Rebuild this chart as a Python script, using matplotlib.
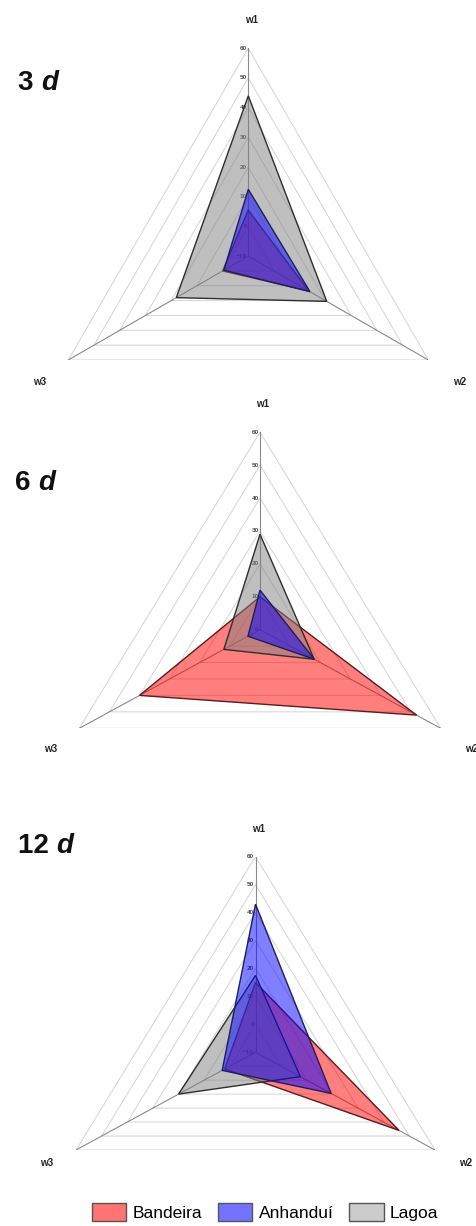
import numpy as np
import matplotlib
matplotlib.use("Agg")
import matplotlib.pyplot as plt
from matplotlib.patches import Polygon, Patch

plt.rcParams['font.family'] = ['Liberation Sans', 'DejaVu Sans']

# ---- data -------------------------------------------------------------
spokes = ["w1", "w2", "w3"]
series_names = ["Bandeira", "Anhanduí", "Lagoa"]
days = ["3", "6", "12"]

bandeira = [[5.5, 13.5, 0.0], [10, 52, 40], [15, 46, 2]]
anhandui = [[12.5, 14, -0.5], [12, 18, 4], [43, 19.5, 3]]
lagoa = [[44, 20.5, 18], [29, 18, 12], [17.5, 7.5, 20]]

scale_min = [-10, 0, -10]
scale_max = 60
scale_step = 10

# ---- styling ----------------------------------------------------------
fill_colors = {"Bandeira": (1.0, 0.0, 0.0, 0.5),
               "Anhanduí": (0.0, 0.0, 1.0, 0.5),
               "Lagoa": (0.5, 0.5, 0.5, 0.5)}
edge_colors = {"Bandeira": "#5a1c1c", "Anhanduí": "#1e1e5a", "Lagoa": "#2e2e2e"}
draw_order = ["Bandeira", "Lagoa", "Anhanduí"]

W, H = 476, 1226
fig = plt.figure(figsize=(W / 100, H / 100), dpi=100)

# panel boxes in pixels: left, right, top, bottom
boxes = [(68.3, 428.3, 48.3, 360.0),
         (79.3, 440.7, 432.3, 728.3),
         (76.0, 435.0, 856.7, 1150.0)]
title_pos = [(18, 90), (15, 490), (18, 853)]
corner_label_dy = [22, 21, 13]

angles = np.deg2rad([90, -30, 210])
values_by_series = {"Bandeira": bandeira, "Anhanduí": anhandui, "Lagoa": lagoa}


def to_xy(vals, vmin):
    r = np.asarray(vals, dtype=float) - vmin
    return np.column_stack([r * np.cos(angles), r * np.sin(angles)])


for i, (l, r, t, b) in enumerate(boxes):
    vmin = scale_min[i]
    span = scale_max - vmin
    ax = fig.add_axes([l / W, 1 - b / H, (r - l) / W, (b - t) / H])
    ax.set_xlim(-span * np.cos(np.pi / 6), span * np.cos(np.pi / 6))
    ax.set_ylim(-span * 0.5, span)
    ax.axis("off")

    # grid triangles
    levels = np.arange(vmin, scale_max + 0.1, scale_step)
    for lv in levels[1:]:
        tri = to_xy([lv, lv, lv], vmin)
        ax.add_patch(Polygon(tri, closed=True, fill=False,
                             edgecolor="#d4d4d4", lw=0.7, zorder=1))
    # spokes
    outer = to_xy([scale_max] * 3, vmin)
    for p in outer:
        ax.plot([0, p[0]], [0, p[1]], color="#8a8a8a", lw=0.8, zorder=1.5)

    # scale labels along w1
    for lv in levels:
        y = lv - vmin
        ax.annotate(f"{lv:g}".replace("-", "\u2212"), xy=(0, y),
                    xytext=(-1.5, 0), textcoords="offset pixels",
                    ha="right", va="center", fontsize=4.6,
                    fontweight="bold", color="#4a4a4a", zorder=1.6)

    # series polygons
    for name in draw_order:
        pts = to_xy(values_by_series[name][i], vmin)
        ax.add_patch(Polygon(pts, closed=True,
                             facecolor=fill_colors[name],
                             edgecolor=edge_colors[name], lw=1.0, zorder=3))

    # spoke names
    dy = corner_label_dy[i]
    ax.annotate(spokes[0], xy=outer[0], xytext=(3, 28), textcoords="offset pixels",
                ha="center", va="center", fontsize=7, fontweight="bold",
                color="#222222", annotation_clip=False)
    ax.annotate(spokes[1], xy=outer[1], xytext=(31, -dy), textcoords="offset pixels",
                ha="center", va="center", fontsize=7, fontweight="bold",
                color="#222222", annotation_clip=False)
    ax.annotate(spokes[2], xy=outer[2], xytext=(-29, -dy), textcoords="offset pixels",
                ha="center", va="center", fontsize=7, fontweight="bold",
                color="#222222", annotation_clip=False)

    # panel title: "<n> d" with italic d
    tx, ty = title_pos[i]
    num = fig.text(tx / W, 1 - ty / H, days[i] + " ", fontsize=20,
                   fontweight="bold", ha="left", va="baseline", color="#111111")
    fig.canvas.draw()
    bb = num.get_window_extent()
    fig.text(bb.x1 / W, 1 - ty / H, "d", fontsize=20, fontweight="bold",
             fontstyle="italic", ha="left", va="baseline", color="#111111")

handles = [Patch(facecolor=tuple(np.array(fill_colors[n][:3]) * 0.5 + 0.5),
                 edgecolor="#555555", lw=1.0, label=n) for n in series_names]
handles = [Patch(facecolor=(1.0, 0.45, 0.45), edgecolor="#555555", lw=1.0, label="Bandeira"),
           Patch(facecolor=(0.45, 0.45, 1.0), edgecolor="#555555", lw=1.0, label="Anhanduí"),
           Patch(facecolor=(0.80, 0.80, 0.80), edgecolor="#555555", lw=1.0, label="Lagoa")]
fig.legend(handles=handles, loc="center", bbox_to_anchor=(265 / W, 14 / H),
           ncol=3, frameon=False, fontsize=12.5, handlelength=2.0,
           handleheight=1.2, handletextpad=0.35, columnspacing=0.9)

fig.savefig("out.png", dpi=100)
